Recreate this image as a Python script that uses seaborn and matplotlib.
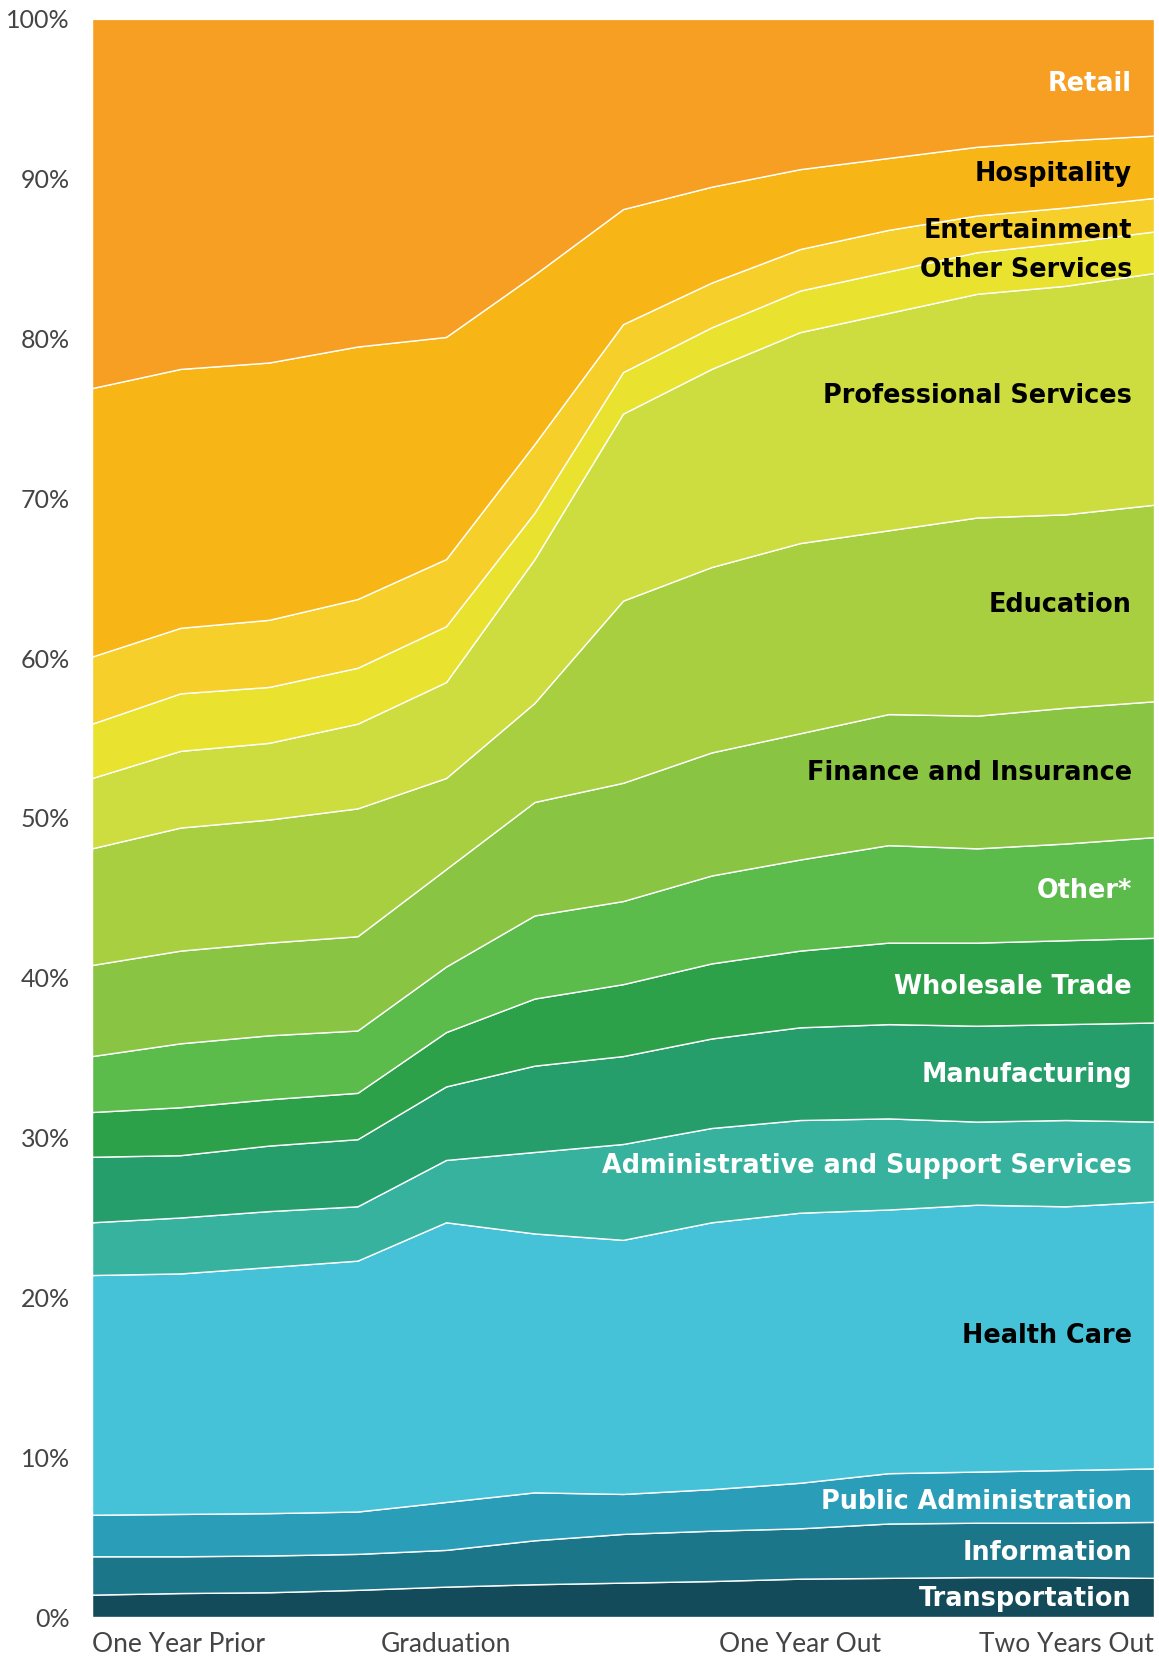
import matplotlib
matplotlib.use("Agg")
import matplotlib.pyplot as plt
import numpy as np
import pandas as pd
import seaborn as sns

# quarters from one year before graduation to two years after
quarters = list(range(13))
tick_pos = [0, 4, 8, 12]
tick_labels = ['One Year Prior', 'Graduation', 'One Year Out', 'Two Years Out']

# industries, bottom of the stack first
industries = ['Transportation', 'Information', 'Public Administration', 'Health Care',
              'Administrative and Support Services', 'Manufacturing', 'Wholesale Trade',
              'Other*', 'Finance and Insurance', 'Education', 'Professional Services',
              'Other Services', 'Entertainment', 'Hospitality', 'Retail']

# share of employed grads (%) per quarter
transportation = [1.4, 1.5, 1.55, 1.7, 1.9, 2.05, 2.15, 2.25, 2.4, 2.45, 2.5, 2.5, 2.45]
information = [2.4, 2.3, 2.3, 2.25, 2.3, 2.75, 3.05, 3.15, 3.15, 3.4, 3.4, 3.4, 3.5]
public_admin = [2.6, 2.65, 2.65, 2.65, 3.0, 3.0, 2.5, 2.6, 2.85, 3.15, 3.2, 3.3, 3.35]
health_care = [15.0, 15.05, 15.4, 15.7, 17.5, 16.2, 15.9, 16.7, 16.9, 16.5, 16.7, 16.5, 16.7]
admin_support = [3.3, 3.5, 3.5, 3.4, 3.9, 5.1, 6.0, 5.9, 5.8, 5.7, 5.2, 5.4, 5.0]
manufacturing = [4.1, 3.9, 4.1, 4.2, 4.6, 5.4, 5.5, 5.6, 5.8, 5.9, 6.0, 6.0, 6.2]
wholesale = [2.8, 3.0, 2.9, 2.9, 3.4, 4.2, 4.5, 4.7, 4.8, 5.1, 5.2, 5.25, 5.3]
other = [3.5, 4.0, 4.0, 3.9, 4.1, 5.2, 5.2, 5.5, 5.7, 6.1, 5.9, 6.05, 6.3]
finance = [5.7, 5.8, 5.8, 5.9, 6.1, 7.1, 7.4, 7.7, 7.9, 8.2, 8.3, 8.5, 8.5]
education = [7.3, 7.7, 7.7, 8.0, 5.7, 6.2, 11.4, 11.6, 11.9, 11.5, 12.4, 12.1, 12.3]
professional = [4.4, 4.8, 4.8, 5.3, 6.0, 9.0, 11.7, 12.4, 13.2, 13.6, 14.0, 14.3, 14.5]
other_services = [3.4, 3.6, 3.5, 3.5, 3.5, 2.9, 2.6, 2.6, 2.6, 2.6, 2.6, 2.7, 2.6]
entertainment = [4.2, 4.1, 4.2, 4.3, 4.2, 4.3, 3.0, 2.8, 2.6, 2.6, 2.3, 2.2, 2.1]
hospitality = [16.8, 16.2, 16.1, 15.8, 13.9, 10.6, 7.2, 6.0, 5.0, 4.5, 4.3, 4.2, 3.9]
retail = [23.1, 21.9, 21.5, 20.5, 19.9, 16.0, 11.9, 10.5, 9.4, 8.7, 8.0, 7.6, 7.3]

colors = ['#134b5b', '#1b7689', '#2a9db8', '#46c2d8', '#36b29e', '#259e6b', '#2ca14a',
          '#5bbb4b', '#8ac443', '#a8cf3f', '#cddd40', '#e9e330', '#f6cf2b', '#f8b516', '#f79f22']
label_colors = ['white', 'white', 'white', 'black', 'white', 'white', 'white', 'white',
                'black', 'black', 'black', 'black', 'black', 'black', 'white']
label_y = [1.15, 4.0, 7.2, 17.6, 28.2, 33.9, 39.4, 45.4, 52.8, 63.3, 76.4, 84.3, 86.7, 90.3, 95.9]

df = pd.DataFrame({
    'quarter': quarters,
    'Transportation': transportation,
    'Information': information,
    'Public Administration': public_admin,
    'Health Care': health_care,
    'Administrative and Support Services': admin_support,
    'Manufacturing': manufacturing,
    'Wholesale Trade': wholesale,
    'Other*': other,
    'Finance and Insurance': finance,
    'Education': education,
    'Professional Services': professional,
    'Other Services': other_services,
    'Entertainment': entertainment,
    'Hospitality': hospitality,
    'Retail': retail,
})

# normalise each quarter to 100%
shares = df[industries].div(df[industries].sum(axis=1), axis=0) * 100

sns.set_theme(style='white')
plt.rcParams['font.family'] = ['Lato', 'DejaVu Sans']

fig = plt.figure(figsize=(11.59, 16.60), dpi=100)
ax = fig.add_axes([0.0794, 0.0259, 0.9163, 0.9627])

ax.stackplot(df['quarter'], shares.T.values, colors=colors,
             edgecolor='white', linewidth=1.0)

ax.set_xlim(0, 12)
ax.set_ylim(0, 100)

ax.set_yticks(range(0, 101, 10))
ax.set_yticklabels([f'{v}%' for v in range(0, 101, 10)], fontsize=18, color='#444444')
ax.tick_params(axis='y', length=0, pad=16)

ax.set_xticks(tick_pos)
ax.set_xticklabels(tick_labels, fontsize=19, color='#444444')
ax.tick_params(axis='x', length=7, width=1, color='#888888', pad=4, direction='out')
xt = ax.get_xticklabels()
xt[0].set_horizontalalignment('left')
xt[-1].set_horizontalalignment('right')

sns.despine(ax=ax, left=True, bottom=True)
ax.grid(False)

for name, y, c in zip(industries, label_y, label_colors):
    ax.text(11.75, y, name, ha='right', va='center', fontsize=18.4,
            fontweight='bold', color=c, family='DejaVu Sans')

fig.savefig('out.png', dpi=100)
